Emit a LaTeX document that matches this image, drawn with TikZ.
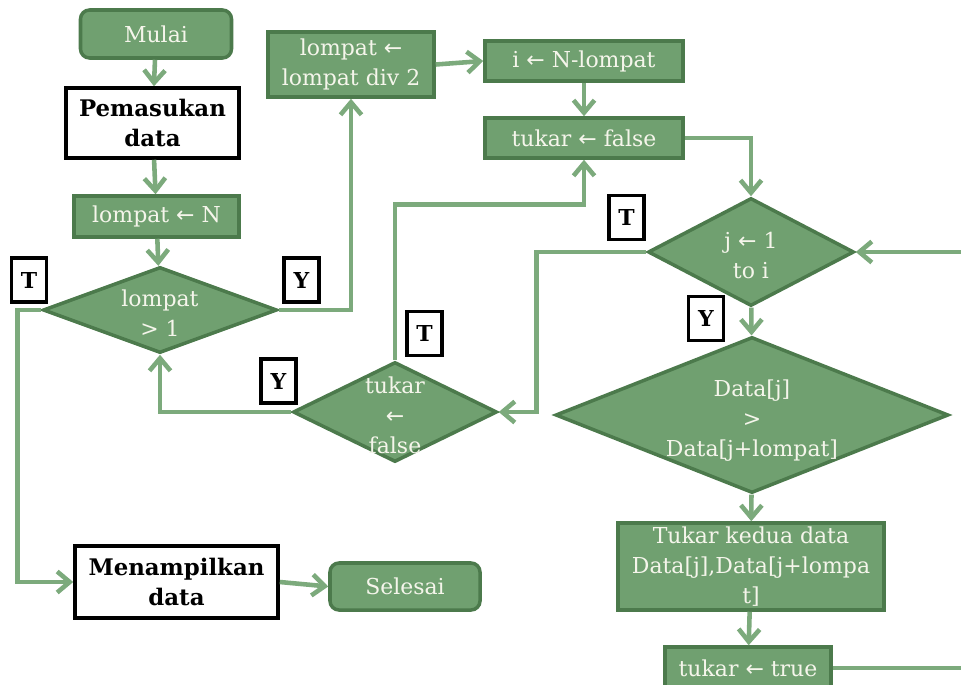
\documentclass[tikz,border=0pt]{standalone}
\usepackage{fontspec}
\setmainfont{DejaVu Serif}
\newfontfamily\symfont{DejaVu Sans}
\usetikzlibrary{shapes.geometric,arrows.meta}

\definecolor{gfill}{RGB}{112,160,112}
\definecolor{gedge}{RGB}{76,122,76}
\definecolor{gline}{RGB}{124,170,124}
\definecolor{gtext}{RGB}{245,245,235}

\newcommand\flowfont{\fontsize{12.5}{17}\selectfont}
\newcommand\boxfontbold{\fontsize{13}{17}\selectfont\bfseries}
\newcommand\tagfont{\fontsize{12.5}{14}\selectfont\bfseries}
\newcommand\larr{{\symfont ←}}
% text of a decision: zero height so the diamond keeps its given size
\newcommand\dtext[1]{\smash{\raisebox{-0.48em}{\begin{tabular}{@{}c@{}}#1\end{tabular}}}}

\tikzset{
  x=0.2mm, y=-0.2mm,
  gbox/.style={rectangle, draw=gedge, fill=gfill, line width=2pt,
    text=gtext, font=\flowfont, align=center, inner sep=0pt},
  gterm/.style={gbox, rounded corners=1.8mm},
  wbox/.style={rectangle, draw=black, fill=white, line width=2pt,
    font=\boxfontbold, align=center, inner sep=0pt},
  decision/.style={diamond, aspect=3, draw=gedge, fill=gfill, line width=2pt,
    text=gtext, font=\flowfont, inner sep=0pt},
  tag/.style={rectangle, draw=black, fill=white, line width=2.2pt,
    font=\tagfont, minimum width=7mm, minimum height=8.8mm, inner sep=0pt},
  wire/.style={draw=gline, line width=2.6pt},
  conn/.style={wire, -{Straight Barb[length=2.5mm,width=4.2mm]}},
}

\begin{document}
\begin{tikzpicture}
\useasboundingbox (0,0) rectangle (961,685);
\clip (0,0) rectangle (961,685);

% left column
\node[gterm, minimum width=30.2mm, minimum height=9.6mm] (mulai) at (156,34) {Mulai};
\node[wbox, minimum width=34.6mm, minimum height=14mm] (input) at (152.5,123) {Pemasukan\\data};
\node[gbox, minimum width=33mm, minimum height=8.2mm] (setN) at (156.5,216.5) {lompat \larr{} N};
\node[decision, minimum width=46.8mm, minimum height=17.2mm] (dLompat) at (160,310) {\dtext{lompat\\> 1}};
\node[wbox, minimum width=40.6mm, minimum height=14.4mm] (output) at (176.5,582) {Menampilkan\\data};
\node[gterm, minimum width=30mm, minimum height=9.4mm] (selesai) at (405,586.5) {Selesai};

% middle
\node[gbox, minimum width=33.2mm, minimum height=13mm] (halve) at (351,64.5) {lompat \larr\\lompat div 2};
\node[decision, minimum width=40.8mm, minimum height=20mm] (dTukar) at (395,412) {\dtext{tukar\\\larr\\false}};

% right column
\node[gbox, minimum width=39.6mm, minimum height=8mm] (setI) at (584,61) {i \larr{} N-lompat};
\node[gbox, minimum width=39.6mm, minimum height=8mm] (setF) at (584,138) {tukar \larr{} false};
\node[decision, minimum width=41.2mm, minimum height=21.6mm] (dJ) at (751,252) {\dtext{j \larr{} 1\\to i}};
\node[decision, minimum width=78.6mm, minimum height=31.2mm] (dData) at (752,415) {\dtext{Data[j]\\>\\Data[j+lompat]}};
\node[gbox, minimum width=53.2mm, minimum height=17.4mm] (swap) at (751,566.5) {Tukar kedua data\\Data[j],Data[j+lompa\\t]};
\node[gbox, minimum width=33.2mm, minimum height=8.4mm] (setT) at (748,668) {tukar \larr{} true};

% branch tags
\node[tag] (tagT1) at (29,280) {T};
\node[tag] (tagY1) at (301.5,280) {Y};
\node[tag] (tagT2) at (424.5,333.5) {T};
\node[tag] (tagY2) at (278.5,381) {Y};
\node[tag] (tagT3) at (626.5,217.5) {T};
\node[tag] (tagY3) at (706,318.5) {Y};

% loop continues past the right edge
\coordinate (outA) at (961,668);
\coordinate (outB) at (961,252);

% connectors
\draw[conn] (mulai) -- (input);
\draw[conn] (input) -- (setN);
\draw[conn] (setN) -- (dLompat);
\draw[conn] (dLompat.east) -| (halve.south);
\draw[conn] (halve.east) -- (setI.west);
\draw[conn] (setI) -- (setF);
\draw[conn] (setF.east) -| (dJ.north);
\draw[conn] (dJ.west) -- ++(-110,0) |- (dTukar.east);
\draw[conn] (dTukar.north) -- ++(0,-156) -| (setF.south);
\draw[conn] (dTukar.west) -| (dLompat.south);
\draw[conn] (dLompat.west) -- ++(-24,0) |- (output.west);
\draw[conn] (output.east) -- (selesai.west);
\draw[conn] (dJ) -- (dData);
\draw[conn] (dData) -- (swap);
\draw[conn] (swap) -- (setT);
\draw[wire] (setT.east) -- (outA);
\draw[conn] (outB) -- (dJ.east);
\end{tikzpicture}
\end{document}
